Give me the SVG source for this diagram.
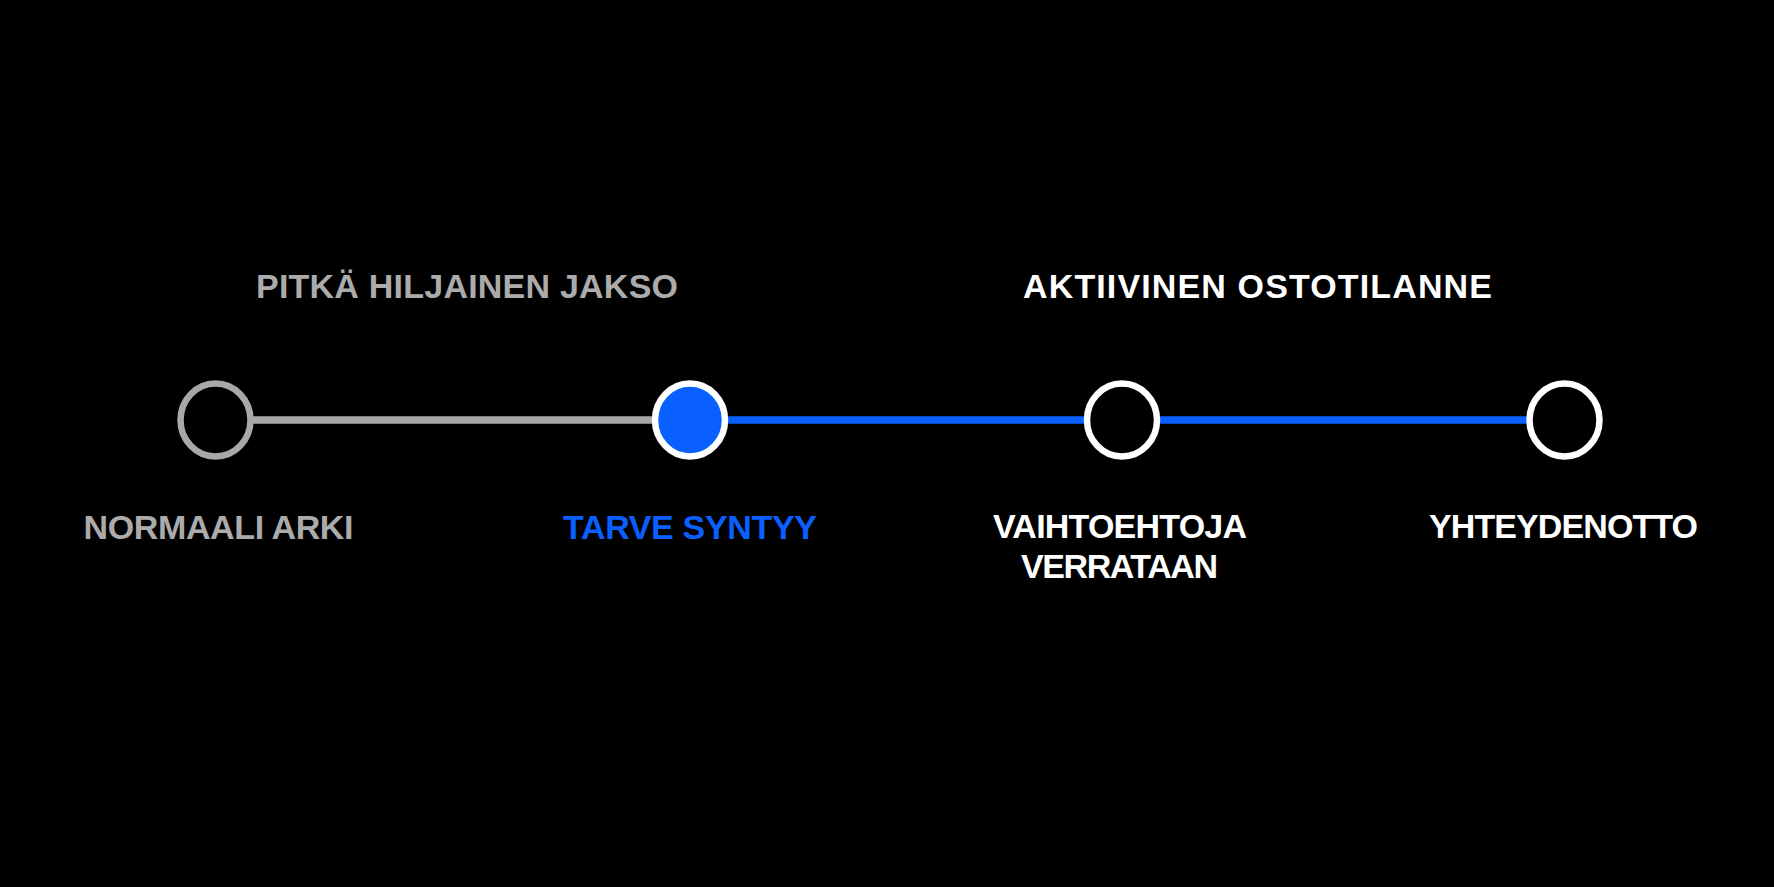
<svg xmlns="http://www.w3.org/2000/svg" width="1774" height="887" viewBox="0 0 1774 887">
  <style>
    .lbl { font-family: "Liberation Sans", Arial, sans-serif; font-weight: bold; font-size: 34px; text-anchor: middle; }
    .gray { fill: #ababab; }
    .white { fill: #ffffff; }
    .blue { fill: #0a5fff; }
    .node { stroke-width: 6.5; }
  </style>
  <rect x="0" y="0" width="1774" height="887" fill="#000000"/>
  <g id="connectors">
    <line x1="250" y1="420" x2="652" y2="420" stroke="#a8a8a8" stroke-width="7.5"/>
    <line x1="700" y1="420" x2="1532" y2="420" stroke="#0a5fff" stroke-width="7.5"/>
  </g>
  <g id="header-silent">
    <text class="lbl gray" x="467" y="297.5" textLength="422" lengthAdjust="spacing">PITKÄ HILJAINEN JAKSO</text>
  </g>
  <g id="header-active">
    <text class="lbl white" x="1257.5" y="297.5" textLength="469" lengthAdjust="spacing">AKTIIVINEN OSTOTILANNE</text>
  </g>
  <g id="node-normaali">
    <ellipse class="node" cx="215.5" cy="420" rx="35" ry="36.5" fill="#000000" stroke="#a8a8a8"/>
    <text class="lbl gray" x="218.5" y="538.5" textLength="270" lengthAdjust="spacing">NORMAALI ARKI</text>
  </g>
  <g id="node-tarve">
    <ellipse class="node" cx="690" cy="420" rx="35" ry="36.5" fill="#0a5fff" stroke="#ffffff"/>
    <text class="lbl blue" x="690" y="538.5" textLength="254" lengthAdjust="spacing">TARVE SYNTYY</text>
  </g>
  <g id="node-vaihtoehtoja">
    <ellipse class="node" cx="1122" cy="420" rx="35" ry="36.5" fill="#000000" stroke="#ffffff"/>
    <text class="lbl white" x="1120" y="538" textLength="254" lengthAdjust="spacing">VAIHTOEHTOJA</text>
    <text class="lbl white" x="1119.5" y="577.5" textLength="197" lengthAdjust="spacing">VERRATAAN</text>
  </g>
  <g id="node-yhteydenotto">
    <ellipse class="node" cx="1564.5" cy="420" rx="35" ry="36.5" fill="#000000" stroke="#ffffff"/>
    <text class="lbl white" x="1563.5" y="537.5" textLength="269" lengthAdjust="spacing">YHTEYDENOTTO</text>
  </g>
</svg>
